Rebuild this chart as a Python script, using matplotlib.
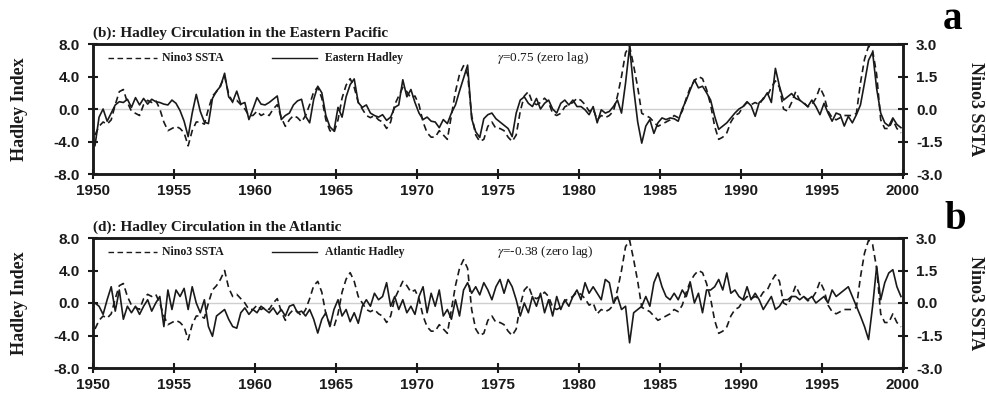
import numpy as np
import matplotlib
matplotlib.use("Agg")
import matplotlib.pyplot as plt

# quarterly values, one row per year 1950..1999
nino3_ssta = [
    [-1.2, -0.8, -0.6, -0.7], [-0.5, 0.2, 0.8, 0.9], [0.3, -0.1, -0.2, -0.3],
    [0.2, 0.4, 0.3, 0.4], [0.0, -0.6, -1.0, -0.9], [-0.8, -0.9, -1.1, -1.7],
    [-1.0, -0.6, -0.6, -0.7], [0.0, 0.6, 0.8, 1.1], [1.5, 0.7, 0.3, 0.4],
    [0.2, 0.0, -0.3, -0.3], [-0.1, -0.3, -0.2, -0.3], [0.0, 0.2, -0.4, -0.8],
    [-0.5, -0.3, -0.4, -0.6], [-0.3, 0.2, 0.8, 1.0], [0.5, -0.5, -1.0, -1.1],
    [-0.5, 0.5, 1.1, 1.4], [1.0, 0.3, 0.0, -0.3], [-0.4, -0.3, -0.5, -0.6],
    [-0.9, -0.6, 0.2, 0.6], [1.0, 0.8, 0.5, 0.6], [0.2, -0.6, -1.1, -1.3],
    [-1.3, -1.0, -1.2, -1.4], [-0.3, 0.8, 1.6, 2.0], [1.6, -0.3, -1.2, -1.5],
    [-1.4, -0.8, -0.6, -0.9], [-0.9, -1.0, -1.3, -1.5], [-1.2, -0.1, 0.6, 0.8],
    [0.3, 0.2, 0.3, 0.5], [0.3, -0.2, -0.3, -0.2], [0.1, 0.2, 0.3, 0.5],
    [0.4, 0.2, -0.1, 0.0], [-0.5, -0.3, -0.4, -0.3], [-0.1, 0.6, 1.5, 2.6],
    [2.9, 2.0, 1.0, -0.2], [-0.3, -0.4, -0.6, -0.8], [-0.7, -0.6, -0.5, -0.3],
    [-0.4, -0.1, 0.5, 1.0], [1.3, 1.5, 1.4, 0.9], [0.2, -0.8, -1.4, -1.3],
    [-1.1, -0.6, -0.3, -0.2], [0.1, 0.3, 0.2, 0.3], [0.2, 0.5, 0.6, 1.0],
    [1.3, 1.0, 0.0, -0.1], [0.3, 0.8, 0.4, 0.3], [0.1, 0.2, 0.5, 1.0],
    [0.6, -0.1, -0.4, -0.5], [-0.4, -0.3, -0.3, -0.3], [-0.2, 1.2, 2.3, 2.9],
    [2.7, 1.6, -0.5, -0.9], [-0.9, -0.5, -0.9, -1.1],
]

eastern_hadley = [
    [-4.5, -1.0, 0.0, -1.5], [-0.5, 0.5, 0.9, 0.8], [1.2, 0.2, 1.4, 0.5],
    [1.3, 0.6, 1.2, 0.9], [0.8, 0.6, 0.5, 1.1], [0.7, -0.2, -1.5, -3.4],
    [-0.5, 1.8, -0.3, -1.6], [-1.8, 1.3, 2.2, 2.8], [4.4, 1.5, 0.9, 2.2],
    [0.6, 0.8, -1.3, 0.0], [1.4, 0.6, 0.5, 0.8], [1.2, 1.6, -1.3, -0.8],
    [-0.5, 0.5, 1.0, 1.2], [-0.9, -1.7, 1.2, 2.8], [2.0, -0.8, -2.2, -2.7],
    [0.2, -1.0, 1.5, 3.0], [3.7, 0.8, 0.2, 0.5], [-0.5, -0.8, -1.0, -0.7],
    [-1.4, -1.0, 0.2, 0.5], [3.6, 1.5, 2.4, 0.8], [-0.5, -1.3, -1.0, -1.5],
    [-1.6, -2.3, -1.3, -1.8], [-0.5, 0.5, 2.2, 3.8], [5.4, -1.2, -2.8, -3.5],
    [-1.2, -0.7, -0.5, -1.2], [-1.6, -2.0, -2.4, -3.4], [-0.5, 1.1, 1.5, 0.7],
    [0.3, 1.3, 0.0, 0.7], [1.1, 0.0, -0.5, 0.7], [1.1, 0.5, 1.1, 0.3],
    [0.3, -0.1, -0.7, 0.3], [-1.7, -0.1, -0.5, -0.3], [0.3, 1.1, -0.5, 3.2],
    [7.7, 2.5, -1.6, -4.2], [-2.1, -1.3, -3.0, -1.7], [-1.1, -1.3, -1.1, -1.2],
    [-1.5, 0.0, 1.1, 2.4], [3.6, 2.6, 2.8, 2.0], [1.1, -0.9, -2.5, -2.1],
    [-1.7, -1.1, -0.5, 0.0], [0.3, 0.9, 0.4, -0.9], [0.8, 1.2, 2.0, 0.8],
    [5.0, 2.8, 1.1, 1.5], [1.9, 1.3, 1.1, 0.7], [0.3, 1.1, 0.3, -0.7],
    [0.7, -0.5, -1.5, -0.5], [-0.7, -2.1, -0.9, -1.7], [-0.7, 0.5, 3.2, 6.0],
    [7.0, 2.5, -0.5, -1.7], [-2.1, -1.1, -1.9, -2.3],
]

atlantic_hadley = [
    [0.0, -0.4, -1.4, 0.4], [2.0, -1.0, 1.6, -2.0], [-0.4, -1.2, -0.4, -1.4],
    [-0.4, 0.4, -1.0, 0.0], [0.8, -2.9, 1.6, -0.8], [1.6, 0.8, 1.8, -0.8],
    [2.0, 0.0, -1.2, 0.4], [-2.9, -4.1, -1.6, -1.2], [-0.8, -2.0, -2.9, -3.1],
    [-1.2, -0.6, -1.4, -0.8], [-1.2, -0.4, -0.8, -1.2], [-0.6, -1.4, -0.8, -1.6],
    [-0.4, -0.2, -1.2, -1.0], [-1.6, -0.8, -2.0, -3.7], [-2.0, -1.2, -2.9, -0.8],
    [0.4, -1.6, -0.8, -2.3], [-1.2, -2.5, -0.4, 0.4], [-0.4, 1.2, 0.4, 0.8],
    [2.5, -0.4, 0.8, -0.8], [0.4, -1.2, -0.4, -1.4], [0.8, 2.0, -1.2, 1.2],
    [-0.4, 1.6, -1.6, -0.8], [-2.0, 0.4, -1.6, 1.6], [2.5, 1.2, 2.0, 1.0],
    [2.5, 1.6, 0.4, 2.0], [2.9, 1.2, 2.9, 2.0], [0.4, -1.6, 0.0, -1.2],
    [0.8, -0.4, 1.2, -1.2], [0.4, -1.6, 0.8, -0.8], [0.4, -0.4, 0.8, 1.6],
    [0.4, 2.5, 1.2, 2.0], [1.2, 0.4, 2.9, 2.5], [0.0, 0.8, -0.8, -0.4],
    [-4.9, -1.2, -0.8, -0.4], [0.8, -0.4, 2.5, 3.7], [2.0, 0.8, 0.4, 1.2],
    [0.4, 1.6, 0.8, 2.5], [0.0, 1.2, -1.2, 1.6], [1.6, 2.0, 2.9, 1.6],
    [3.7, 1.2, 1.6, 0.8], [0.4, 2.0, 0.4, 1.2], [0.4, -0.8, 0.0, 0.8],
    [-0.8, -0.4, 0.4, 0.4], [0.8, 0.8, 0.4, 0.8], [0.4, 0.8, 0.0, 0.4],
    [0.8, 0.0, 1.6, 0.8], [1.2, 1.6, 2.0, 0.8], [-0.4, -1.6, -2.9, -4.5],
    [-0.4, 4.5, 0.4, 2.5], [3.7, 4.1, 2.0, 0.8],
]

first_year = 1950
x_ticks = [1950, 1955, 1960, 1965, 1970, 1975, 1980, 1985, 1990, 1995, 2000]
left_ticks = [8.0, 4.0, 0.0, -4.0, -8.0]
right_ticks = [3.0, 1.5, 0.0, -1.5, -3.0]

panels = [
    ("(b): Hadley Circulation in the Eastern Pacific", "Eastern Hadley",
     eastern_hadley, r"$\gamma$=0.75 (zero lag)", "a"),
    ("(d): Hadley Circulation in the Atlantic", "Atlantic Hadley",
     atlantic_hadley, r"$\gamma$=-0.38 (zero lag)", "b"),
]

SERIF = "Liberation Serif"
SANS = "Liberation Sans"
INK = "#1a1a1a"

plt.rcParams["mathtext.fontset"] = "stix"

fig = plt.figure(figsize=(9.86, 4.0), dpi=100)
boxes = [[0.0943, 0.565, 0.8215, 0.325], [0.0943, 0.08, 0.8215, 0.325]]
tag_pos = [(0.9665, 0.952), (0.9685, 0.452)]

for (title, name, hadley, gamma_txt, tag), box, tpos in zip(panels, boxes, tag_pos):
    hadley = np.ravel(hadley)
    nino = np.ravel(nino3_ssta)
    t = first_year + 0.125 + 0.25 * np.arange(len(hadley))

    ax = fig.add_axes(box)
    ax2 = ax.twinx()

    ax.axhline(0, color="#cfcfcf", lw=1.0, zorder=1)
    ax.plot(t, hadley, color=INK, lw=1.2, zorder=3)
    ax2.plot(t, nino, color=INK, lw=1.2, ls=(0, (4, 2.5)), zorder=3)

    ax.set_xlim(1950, 2000)
    ax.set_ylim(-8, 8)
    ax2.set_ylim(-3, 3)
    ax.set_xticks(x_ticks)
    ax.set_yticks(left_ticks)
    ax.set_yticklabels([f"{v:.1f}" for v in left_ticks])
    ax2.set_yticks(right_ticks)
    ax2.set_yticklabels([f"{v:.1f}" for v in right_ticks])

    for a in (ax, ax2):
        a.tick_params(direction="inout", length=7, width=1.5, pad=6,
                      labelsize=11, colors=INK)
        for lab in a.get_xticklabels() + a.get_yticklabels():
            lab.set_fontfamily(SANS)
            lab.set_fontweight("bold")
        for sp in a.spines.values():
            sp.set_linewidth(1.8)
            sp.set_color(INK)
    ax.tick_params(axis="x", pad=4)

    # title above the frame
    ax.text(0.0, 1.03, title, transform=ax.transAxes, ha="left", va="bottom",
            fontsize=11, fontweight="bold", family=SERIF, color=INK)

    # hand placed legend row
    ly = 0.89
    ax.plot([0.0185, 0.079], [ly, ly], transform=ax.transAxes, color=INK,
            lw=1.0, ls=(0, (4, 2.5)))
    ax.text(0.085, ly, "Nino3 SSTA", transform=ax.transAxes, va="center",
            fontsize=8.5, fontweight="bold", family=SERIF, color=INK)
    ax.plot([0.221, 0.2765], [ly, ly], transform=ax.transAxes, color=INK, lw=1.0)
    ax.text(0.2864, ly, name, transform=ax.transAxes, va="center",
            fontsize=8.5, fontweight="bold", family=SERIF, color=INK)
    ax.text(0.499, ly, gamma_txt, transform=ax.transAxes, va="center",
            fontsize=9.5, family=SERIF, color=INK)

    # axis titles
    y_mid = box[1] + box[3] / 2
    fig.text(0.02, y_mid, "Hadley Index", rotation=90, ha="center", va="center",
             fontsize=13, fontweight="bold", family=SERIF, color=INK)
    fig.text(0.989, y_mid, "Nino3 SSTA", rotation=-90, ha="center", va="center",
             fontsize=13, fontweight="bold", family=SERIF, color=INK)
    fig.text(tpos[0], tpos[1], tag, ha="center", va="center",
             fontsize=28, fontweight="bold", family=SERIF, color="black")

fig.savefig("out.png", dpi=100)
